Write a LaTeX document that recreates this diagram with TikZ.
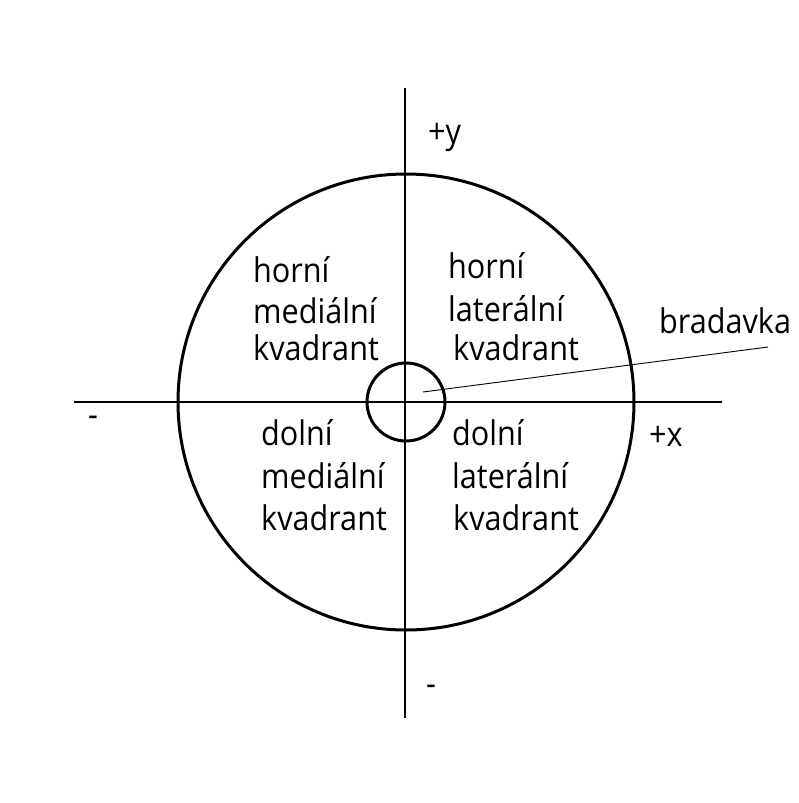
\documentclass[tikz,border=0pt]{standalone}
\usepackage{fontspec}
\setmainfont[FakeStretch=0.9]{Open Sans}
\usepackage{tikz}
\usetikzlibrary{positioning}

\begin{document}
\begin{tikzpicture}[x=1pt,y=-1pt,
      axis/.style={draw=black,line width=2pt},
      ring/.style={circle,draw=black,line width=3pt,inner sep=0pt},
      lbl/.style={anchor=base west,inner sep=0pt,text=black,font=\fontsize{34}{34}\selectfont},
      pointer/.style={draw=black,line width=0.9pt}]
    \useasboundingbox (0,0) rectangle (798,803);
    \fill[white] (0,0) rectangle (798,803);
    % axes and centre
    \coordinate (O) at (406,402);
    \coordinate (xl) at (74,402);
    \coordinate (xr) at (722,402);
    \coordinate (yt) at (405,88);
    \coordinate (yb) at (405,718);
    \node[ring,minimum size=456pt] (breast) at (O) {};
    \node[ring,minimum size=78pt] (nipple) at (O) {};
    \draw[axis] (xl) -- (xr);
    \draw[axis] (yt) -- (yb);
    % quadrants
    \foreach \n/\x/\ya/\yb/\yc/\xc/\ta/\tb in {
        hm/253/282/323/360/253/horní/mediální,
        hl/448/278/321/360/453/horní/laterální,
        dm/261/445/488/530/261/dolní/mediální,
        dl/452/445/488/530/453/dolní/laterální} {
      \node[lbl] (\n1) at (\x,\ya) {\ta};
      \node[lbl] (\n2) at (\x,\yb) {\tb};
      \node[lbl] (\n3) at (\xc,\yc) {kvadrant};
    }
    % axis signs
    \node[lbl] (plusy) at (428,143) {+y};
    \node[lbl] (plusx) at (649,446) {+x};
    \node[lbl] (minusx) at (88,426) {-};
    \node[lbl] (minusy) at (426,695) {-};
    % nipple label
    \node[lbl] (bradavka) at (659,333) {bradavka};
    \coordinate (spot) at (423,392);
    \coordinate (tip) at (768,347);
    \draw[pointer] (spot) -- (tip);
  \end{tikzpicture}
\end{document}
